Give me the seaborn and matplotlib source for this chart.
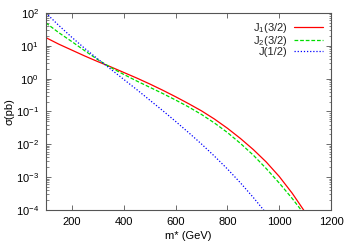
import numpy as np
import pandas as pd
import seaborn as sns
import matplotlib
matplotlib.use("Agg")
import matplotlib.pyplot as plt
from matplotlib.ticker import FixedLocator, NullFormatter, LogFormatterSciNotation

# masses in GeV, log10 of cross section
mass = [100, 150, 200, 250, 300, 350, 400, 450, 500, 550, 600,
        650, 700, 750, 800, 850, 900, 950, 1000, 1050, 1100]
log_j1 = [1.25, 1.05, 0.87, 0.69, 0.52, 0.36, 0.19, 0.02, -0.16, -0.35, -0.55,
          -0.76, -0.98, -1.23, -1.51, -1.82, -2.16, -2.54, -2.98, -3.49, -4.07]
log_j2 = [1.70, 1.40, 1.13, 0.85, 0.58, 0.34, 0.13, -0.07, -0.26, -0.45, -0.65,
          -0.86, -1.09, -1.35, -1.64, -1.97, -2.33, -2.74, -3.18, -3.65, -4.16]
mass_half = [100, 150, 200, 250, 300, 350, 400, 450, 500, 550, 600,
             650, 700, 750, 800, 850, 900, 950]
log_half = [2.00, 1.62, 1.26, 0.92, 0.60, 0.29, -0.02, -0.33, -0.65, -0.97, -1.30,
            -1.64, -1.99, -2.36, -2.75, -3.17, -3.62, -4.10]

labels = ["J$_1$(3/2)", "J$_2$(3/2)", "J(1/2)"]
colors = ["#ff0000", "#00dd00", "#0000ff"]
styles = ["-", (0, (3, 1.5)), (0, (1, 1.5))]

x_ticks = [200, 400, 600, 800, 1000, 1200]
y_decades = [-4, -3, -2, -1, 0, 1, 2]

sns.set_style("ticks")
plt.rcParams["font.family"] = ["Liberation Sans", "DejaVu Sans"]
plt.rcParams["mathtext.fontset"] = "custom"
plt.rcParams["mathtext.rm"] = "Liberation Sans"
plt.rcParams["mathtext.it"] = "Liberation Sans:italic"

fig = plt.figure(figsize=(3.5, 2.45), dpi=100)
ax = fig.add_axes([0.131, 0.143, 0.815, 0.804])

series = [(mass, log_j1), (mass, log_j2), (mass_half, log_half)]
for (m, lg), lab, c, ls in zip(series, labels, colors, styles):
    df = pd.DataFrame({"m": m, "sigma": np.power(10.0, lg)})
    sns.lineplot(data=df, x="m", y="sigma", ax=ax, color=c, lw=0.9,
                 linestyle=ls, label=lab)

ax.set_yscale("log")
ax.set_xlim(100, 1200)
ax.set_ylim(1e-4, 1e2)
ax.xaxis.set_major_locator(FixedLocator(x_ticks))
ax.yaxis.set_major_locator(FixedLocator([10.0 ** d for d in y_decades]))
ax.yaxis.set_major_formatter(LogFormatterSciNotation())
minor = [k * 10.0 ** d for d in y_decades[:-1] for k in range(2, 10)]
ax.yaxis.set_minor_locator(FixedLocator(minor))
ax.yaxis.set_minor_formatter(NullFormatter())
ax.tick_params(which="both", direction="in", top=True, right=True,
               labelsize=8, color="#555555", labelcolor="black", pad=5)
ax.tick_params(which="major", length=3.5, width=0.6)
ax.tick_params(which="minor", length=1.8, width=0.5)
ax.tick_params(axis="x", which="minor", top=False, bottom=False)
for s in ax.spines.values():
    s.set_linewidth(0.8)
    s.set_color("#555555")

ax.set_xlabel("m* (GeV)", fontsize=8, labelpad=3, color="black")
ax.set_ylabel("σ(pb)", fontsize=8, labelpad=1, color="black")

ax.legend(loc="upper right", frameon=False, fontsize=8, markerfirst=False,
          handlelength=2.6, handletextpad=0.6, labelspacing=-0.1,
          borderaxespad=0.3)

fig.savefig("out.png", dpi=100)
